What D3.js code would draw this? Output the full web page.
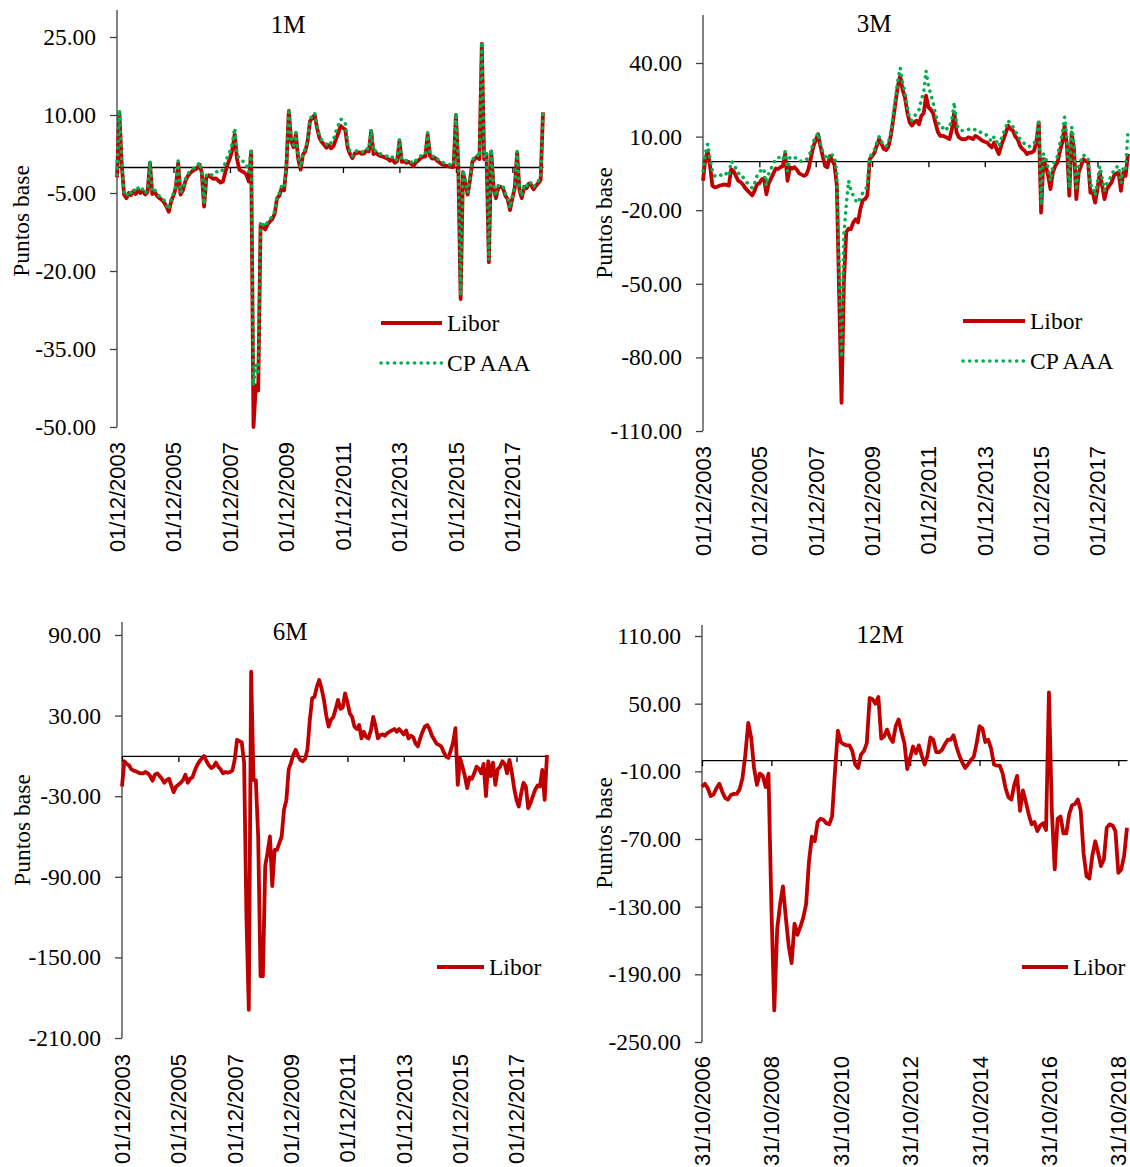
<!DOCTYPE html>
<html>
<head>
<meta charset="utf-8">
<script src="https://cdn.jsdelivr.net/npm/d3@7"></script>
<style>
  body { margin: 0; background: #fff; }
</style>
</head>
<body>
<svg id="chart" width="1130" height="1167"></svg>
<script>
// Spreads Libor / CP AAA, puntos base (monthly readings)

// tick labels of the date axes
var dateTicks = ["01/12/2003", "01/12/2005", "01/12/2007", "01/12/2009",
                 "01/12/2011", "01/12/2013", "01/12/2015", "01/12/2017"];
var dateTicks12M = ["31/10/2006", "31/10/2008", "31/10/2010", "31/10/2012",
                    "31/10/2014", "31/10/2016", "31/10/2018"];

// y tick values per panel
var yTicks1M = [25, 10, -5, -20, -35, -50];
var yTicks3M = [40, 10, -20, -50, -80, -110];
var yTicks6M = [90, 30, -30, -90, -150, -210];
var yTicks12M = [110, 50, -10, -70, -130, -190, -250];

// 1M, monthly from 12/2003
var libor1M = [
  -2, 10.5, 0.5, -5.3, -6, -5, -5.4, -4.6, -5.2, -4.4, -5, -4.6,
  -5.3, -4.8, 0.8, -5.2, -4.8, -5.5, -6, -6.3, -6.8, -7.6, -8.6, -6.6,
  -5.5, -4, 0.8, -5.3, -4.5, -2.8, -1.8, -1.2, -0.8, -0.5, -0.3, 0.5,
  -1, -7.6, -2, -1.6, -2, -2.3, -2.2, -2.6, -3, -2.8, -1, 0.5,
  1.7, 3.3, 6.3, 1.5, -0.5, -0.8, -1, -1.5, -2.8, 3, -50, -42,
  -43, -11, -11.5, -12, -11, -10.5, -10, -9, -6, -5.5, -4, -4.5,
  0.2, 10.8, 5, 3.8, 6.3, 1.5, -0.5, 2.4, 3, 5, 8.8, 9.5,
  10, 7.5, 5.6, 4.8, 4.3, 3.7, 4.2, 3.6, 4, 5.3, 6.5, 7.9,
  7.5, 7.2, 3.7, 2.5, 1.7, 2.6, 2.7, 2.8, 2.5, 2.6, 3.2, 3,
  6.9, 2.5, 2.8, 2.3, 2.1, 2, 1.8, 1.6, 1.2, 1.5, 0.8, 1.1,
  5, 1, 1.1, 0.8, 1, 0.6, 0.2, 0.9, 1.2, 1.7, 2, 2,
  6.3, 2.1, 1.6, 1.8, 1.2, 0.9, 0.5, 0.4, 0.2, 0.1, 0, 0,
  10, 0.5, -25.4, -1, -3, -5.3, -2.5, 1, 1.5, 2, 1.5, 23.7,
  1.5, 2.5, -18.3, 3, -4, -6, -4, -3.8, -4.1, -5.5, -6.2, -8.3,
  -6, -4, 2.7, -4.5, -6, -3.8, -4.1, -3.2, -3.5, -4.3, -3.6, -3.1,
  -2.5, 10.5
];
var cpaaa1M = [
  -1.5, 11, 1, -5, -5.6, -4.6, -5, -4.2, -4.8, -4, -4.6, -4.2,
  -5, -4.4, 1.2, -4.8, -4.4, -5.1, -5.6, -5.9, -6.4, -7.2, -8.2, -6.2,
  -5.1, -3.6, 1.2, -4.9, -4.1, -2.4, -1.4, -0.8, -0.4, -0.1, 0.1, 0.9,
  -0.6, -7.2, -1.6, -1.2, -1.5, -1.6, -1, -0.8, -1, -0.5, 0.8, 2,
  3, 4.5, 7.5, 2.5, 1.5, 1.2, 1, 0.5, -1, 3.5, -42, -38,
  -40, -10.5, -11, -11.5, -10.5, -10, -9.5, -8.5, -5.6, -5, -3.6, -4,
  0.6, 11.2, 5.4, 4.2, 6.7, 1.9, -0.1, 2.8, 3.4, 5.4, 9.2, 9.9,
  10.4, 7.9, 6, 5.2, 4.8, 4.4, 5, 4.6, 5.3, 6.8, 8, 9.2,
  9, 8.6, 4.5, 3, 2.1, 3, 3.1, 3.2, 2.9, 3, 3.6, 3.4,
  7.3, 2.9, 3.2, 2.7, 2.5, 2.4, 2.2, 2, 1.6, 1.9, 1.2, 1.5,
  5.4, 1.4, 1.5, 1.2, 1.4, 1, 0.6, 1.3, 1.6, 2.1, 2.4, 2.4,
  6.7, 2.5, 2, 2.2, 1.6, 1.3, 0.9, 0.8, 0.6, 0.5, 0.4, 0.4,
  10.4, 0.9, -24.8, -0.6, -2.6, -4.9, -2.1, 1.4, 1.9, 2.4, 1.9, 24.1,
  1.9, 2.9, -17.9, 3.4, -3.6, -5.6, -3.6, -3.4, -3.7, -5.1, -5.8, -7.9,
  -5.6, -3.6, 3.1, -4.1, -5.6, -3.4, -3.7, -2.8, -3.1, -3.9, -3.2, -2.7,
  -2.1, 10.9
];

// 3M, monthly from 12/2003
var libor3M = [
  -8, 1, 4, -2, -10, -10.7, -10.5, -10, -9.8, -9.5, -9.7, -10,
  -3.3, -4, -6, -8, -8.5, -9.5, -11, -12, -13, -14, -12, -9.5,
  -9, -7.5, -7, -13.5, -9, -7, -5, -3, -3.2, -2.5, -2, 3,
  -8, -2.5, -3, -2.5, -3.5, -5, -5.5, -6, -5.5, -3, 1.5, 6,
  8.5, 11, 6, 2, -2, -2.5, 2, 0.5, -1.5, -10, -55, -98.5,
  -49.5, -29, -27.5, -27.7, -25, -23.7, -25, -19.6, -16, -15.5, -14, 0.8,
  2, 3.4, 6.3, 9, 7, 5, 4.5, 6, 10.5, 17, 24, 30.7,
  34.8, 29, 26, 20, 15.8, 14.5, 15.8, 16.5, 15, 18.5, 19.5, 26.7,
  22, 21, 19.5, 15.5, 12, 10.3, 10.3, 10, 9.5, 9, 13, 19.9,
  11.7, 9.7, 9, 9, 9, 9.7, 9.5, 9, 10.3, 9.8, 9, 8.3,
  7.9, 7.6, 6.5, 5.6, 7.6, 5, 2.9, 6.3, 9, 11.7, 14.4, 13,
  12.4, 10, 9, 6.3, 5, 4.2, 2.9, 3.5, 3.5, 4.2, 8, 15.8,
  -21, 0.8, -2, -6, -11.4, -4.6, -2, -0.5, 4, 7.6, 14.4, 6.3,
  -14.1, 11.7, 4.9, -15.5, -4.6, -1.9, 0.8, 0, -0.5, -12.8, -13, -16.9,
  -11.4, -4.6, -10, -15.5, -11.4, -10, -8.7, -6, -5, -4.6, -12.1, -4.6,
  -6, 3
];
var cpaaa3M = [
  -4, 3, 7, 1, -4, -6, -6.5, -6, -5.5, -6, -5, -6,
  0, -1, -3, -5, -5, -6.5, -8, -9, -10, -11, -9, -6,
  -5, -3, -3.5, -10, -5, -3, -1, 1, 1.5, 1.5, 0.5, 4,
  -4, 1.5, 1, 1.5, 1, 0, 0, 0.5, 0.5, 2, 4, 8,
  9.5, 11.5, 7, 4, 2, 0.5, 3, 2.5, 2, -5, -45, -80,
  -30, -18, -8, -12, -14, -16, -17, -15, -13, -12, -10, 1.5,
  3, 4.5, 7.5, 10, 8, 6.5, 6, 7.5, 12, 19, 26, 33,
  38, 32, 28, 22, 17.5, 16.5, 18, 20, 21, 25, 28, 36.8,
  31, 27, 24, 19, 16, 14, 13.5, 14.5, 13, 14, 17, 24,
  15, 13, 12.5, 12.5, 13, 13, 12.5, 12.5, 13, 12.5, 12, 11,
  11, 10.5, 9, 8, 10, 8, 6, 9, 11.5, 14, 16.5, 15,
  14, 12, 11, 9, 8, 7, 6, 6, 6.5, 7, 10, 17,
  -18, 3, 1, -3, -8, -1.5, 0.5, 2, 7, 11, 18, 9,
  -11, 14, 7.5, -12, -2, 0.5, 2.5, 2, 1.5, -10, -10, -14,
  -9, -2, -7, -12, -9, -7.5, -6, -3.5, -2.5, -2, -9, -2,
  -3, 12.5
];

// 6M, monthly from 12/2003
var libor6M = [
  -22.8, -4, -6, -7, -10, -11, -11.5, -12.5, -13, -13, -12, -13,
  -15, -18.5, -14, -13, -15, -17, -20, -18, -17, -22, -27, -23,
  -21.5, -20, -18, -14, -20, -17, -16, -11, -7, -4, -2, 0,
  -4, -7, -9, -8, -5, -8, -10, -13, -12, -12.5, -12, -11,
  -3, 12, 11, 10, -5, -120, -189, 62.7, -18, -18, -60, -164,
  -164, -82, -72, -60, -97, -70, -70, -65, -60, -40, -33, -10,
  -5, 1, 4.5, 0, -3, -4, -2, 5, 27, 43, 44, 51.6,
  56.5, 50, 41.7, 30, 21.8, 27, 29, 35, 41.7, 35, 36, 46.6,
  40, 31.7, 29, 21.8, 20, 23, 13, 18, 14, 13, 19, 29,
  22, 13, 15.5, 16, 15, 17, 18, 19, 20, 18, 20, 18,
  16, 19, 13, 15, 14, 9.4, 7, 13, 18, 21.8, 23, 20,
  15, 12, 9, 8.2, 7, 3, -0.5, -1.5, 4, 10, 20.6, -21.6,
  -2, -8, -15, -24, -16, -17, -13, -8, -9.5, -13, -6, -30,
  -4, -15, -5, -21.6, -10, -8, -4, -6, -13, -3, -12, -24,
  -32.7, -37.7, -27.8, -20, -23, -39, -35, -30, -25, -22, -22.8, -10.4,
  -32.7, 0.7
];

// 12M, monthly from 10/2006
var libor12M = [
  -23.7, -21, -25, -32, -30.5, -25, -21, -28, -33.5, -35, -31, -30,
  -30, -26, -16, 5, 33, 20, -7, -22, -12, -14, -24, -12,
  -130, -222, -150, -128, -112, -140, -165, -180, -145, -155, -148, -140,
  -128, -90, -68, -72, -55, -52, -53, -56, -57, -50, -10, 26,
  16, 14, 13, 13, 8, -4, -7, 5, 8, 15, 55, 54,
  50, 56, 19, 21, 27, 20, 16, 30, 36, 25, 15, -8,
  2, 12, 6, 13, 4, -4, 4, 20, 18, 7, 7, 9,
  14, 18, 18, 22, 12, 4, -2, -7, -4, 0, 3, 15,
  30, 28, 16, 18, 10, -4, -5, -5, -12, -25, -33, -35,
  -22, -14, -45, -27, -37, -48, -57, -55, -63, -58, -56, -62,
  60, -45, -97, -52, -50, -65, -65, -48, -40, -39, -35, -45,
  -83, -103, -105, -85, -72, -82, -94, -88, -60, -57, -58, -63,
  -100, -97, -85, -60
];

var RED = "#C00000";
var GREEN = "#00B050";
var SERIF = "'Liberation Serif', 'Times New Roman', serif";
var SANS = "'Liberation Sans', Arial, sans-serif";

var svg = d3.select("#chart");

// month index of a dd/mm/yyyy label, counted from the first month of the series
function monthIndex(label, y0, m0) {
  var p = label.split("/");
  return (+p[2] - y0) * 12 + (+p[1] - m0);
}

// draws one of the four small charts
function drawPanel(p) {
  var g = svg.append("g");
  var n = p.series[0].values.length;

  var x = d3.scaleLinear().domain([0, n - 1]).range([p.left, p.right]);
  var y = d3.scaleLinear().domain([p.yTicks[p.yTicks.length - 1], p.yTicks[0]])
      .range([p.bottom, p.top]);

  // y axis
  var yAxis = d3.axisLeft(y)
      .tickValues(p.yTicks)
      .tickSize(7)
      .tickPadding(14)
      .tickFormat(function(d) { return d.toFixed(2); });
  var ya = g.append("g")
      .attr("transform", "translate(" + p.left + ",0)")
      .call(yAxis);
  ya.select(".domain").remove();
  ya.selectAll("line").attr("stroke", "#404040").attr("stroke-width", 1.3);
  ya.selectAll("text")
      .attr("font-family", SERIF)
      .attr("font-size", 23.5)
      .attr("fill", "#000");
  g.append("line")
      .attr("x1", p.left).attr("x2", p.left)
      .attr("y1", p.axisTop).attr("y2", p.bottom)
      .attr("stroke", "#404040").attr("stroke-width", 1.3);

  // horizontal axis sits on zero, ticks hang below it
  var tickIdx = p.dateLabels.map(function(d) { return monthIndex(d, p.y0, p.m0); });
  var xAxis = d3.axisBottom(x)
      .tickValues(tickIdx)
      .tickSize(6)
      .tickSizeOuter(0)
      .tickFormat("");
  var xa = g.append("g")
      .attr("transform", "translate(0," + y(0) + ")")
      .call(xAxis);
  xa.select(".domain").attr("stroke", "#000").attr("stroke-width", 1.3);
  xa.selectAll("line").attr("stroke", "#000").attr("stroke-width", 1.3);

  // date labels at the bottom, rotated
  g.selectAll("text.date")
      .data(p.dateLabels)
      .enter()
      .append("text")
      .attr("class", "date")
      .attr("transform", function(d, i) {
          return "translate(" + (x(tickIdx[i]) + 8) + "," + p.labelTop + ") rotate(-90)";
      })
      .attr("text-anchor", "end")
      .attr("font-family", SANS)
      .attr("font-size", 22)
      .attr("fill", "#000")
      .text(function(d) { return d; });

  // axis title
  g.append("text")
      .attr("transform", "translate(" + p.ylabX + "," + p.ylabY + ") rotate(-90)")
      .attr("text-anchor", "middle")
      .attr("font-family", SERIF)
      .attr("font-size", 23.5)
      .text("Puntos base");

  // panel title
  g.append("text")
      .attr("x", p.titleX)
      .attr("y", p.titleY)
      .attr("text-anchor", "middle")
      .attr("font-family", SERIF)
      .attr("font-size", 25)
      .text(p.title);

  // series
  var line = d3.line()
      .x(function(d, i) { return x(i); })
      .y(function(d) { return y(d); });

  p.series.forEach(function(s) {
      var path = g.append("path")
          .datum(s.values)
          .attr("fill", "none")
          .attr("d", line);
      styleSeries(path, s.name);
  });

  // legend
  p.series.forEach(function(s, i) {
      var ly = p.legendY + i * 40;
      var l = g.append("line")
          .attr("x1", p.legendX).attr("x2", p.legendX + p.legendLen)
          .attr("y1", ly).attr("y2", ly);
      styleSeries(l, s.name);
      g.append("text")
          .attr("x", p.legendX + p.legendLen + 5)
          .attr("y", ly + 8)
          .attr("font-family", SERIF)
          .attr("font-size", 23.5)
          .text(s.name);
  });
}

function styleSeries(sel, name) {
  if (name == "Libor") {
      sel.attr("stroke", RED)
         .attr("stroke-width", 3.8)
         .attr("stroke-linejoin", "round");
  } else {
      sel.attr("stroke", GREEN)
         .attr("stroke-width", 3.6)
         .attr("stroke-linecap", "round")
         .attr("stroke-dasharray", "0.1 6.6");
  }
}

drawPanel({
  title: "1M", titleX: 288, titleY: 33,
  series: [{name: "Libor", values: libor1M}, {name: "CP AAA", values: cpaaa1M}],
  yTicks: yTicks1M, dateLabels: dateTicks, y0: 2003, m0: 12,
  left: 117, right: 543, top: 37, bottom: 427, axisTop: 10,
  labelTop: 442, ylabX: 29, ylabY: 221,
  legendX: 381, legendY: 323, legendLen: 61
});

drawPanel({
  title: "3M", titleX: 874, titleY: 32,
  series: [{name: "Libor", values: libor3M}, {name: "CP AAA", values: cpaaa3M}],
  yTicks: yTicks3M, dateLabels: dateTicks, y0: 2003, m0: 12,
  left: 703, right: 1128, top: 63, bottom: 431, axisTop: 15,
  labelTop: 446, ylabX: 612, ylabY: 223,
  legendX: 963, legendY: 321, legendLen: 62
});

drawPanel({
  title: "6M", titleX: 290, titleY: 640,
  series: [{name: "Libor", values: libor6M}],
  yTicks: yTicks6M, dateLabels: dateTicks, y0: 2003, m0: 12,
  left: 122, right: 547, top: 635, bottom: 1038, axisTop: 622,
  labelTop: 1054, ylabX: 30, ylabY: 830,
  legendX: 437, legendY: 967, legendLen: 47
});

drawPanel({
  title: "12M", titleX: 880, titleY: 643,
  series: [{name: "Libor", values: libor12M}],
  yTicks: yTicks12M, dateLabels: dateTicks12M, y0: 2006, m0: 10,
  left: 702, right: 1127, top: 636, bottom: 1042, axisTop: 625,
  labelTop: 1056, ylabX: 612, ylabY: 833,
  legendX: 1022, legendY: 967, legendLen: 46
});
</script>
</body>
</html>
